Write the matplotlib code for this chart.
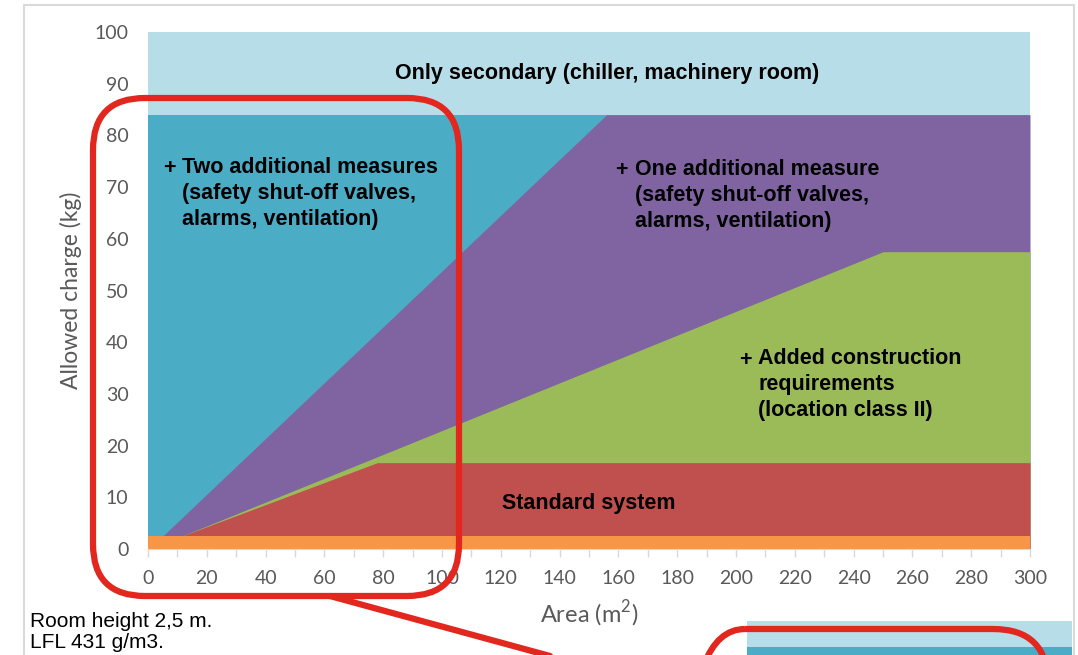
import numpy as np
import matplotlib.pyplot as plt
from matplotlib.patches import FancyBboxPatch, Rectangle

# boundaries of each band (area in m2 -> allowed charge in kg)
secondary_x = [0, 300]
secondary_y = [100, 100]
two_measures_x = [0, 300]
two_measures_y = [84, 84]
one_measure_x = [0, 5, 156, 300]
one_measure_y = [2.5, 2.5, 84, 84]
construction_x = [0, 11.5, 250, 300]
construction_y = [2.5, 2.5, 57.5, 57.5]
standard_x = [0, 11.5, 78, 300]
standard_y = [2.5, 2.5, 16.7, 16.7]
base_x = [0, 300]
base_y = [2.5, 2.5]

layers = [
    (secondary_x, secondary_y, '#B7DDE8'),
    (two_measures_x, two_measures_y, '#4BACC6'),
    (one_measure_x, one_measure_y, '#8064A2'),
    (construction_x, construction_y, '#9BBB59'),
    (standard_x, standard_y, '#C0504D'),
    (base_x, base_y, '#F79646'),
]

x_ticks = list(range(0, 301, 20))
y_ticks = list(range(0, 101, 10))

plt.rcParams['font.family'] = ['Lato', 'DejaVu Sans']
plt.rcParams['mathtext.fontset'] = 'custom'
plt.rcParams['mathtext.rm'] = 'Lato'
W, H = 1078, 655
fig = plt.figure(figsize=(W / 100, H / 100), dpi=100)
ax = fig.add_axes([148 / W, 1 - 549 / H, 882 / W, 517 / H])

for xs, ys, col in layers:
    ax.fill_between(xs, 0, ys, color=col, linewidth=0)

ax.set_xlim(0, 300)
ax.set_ylim(0, 100)
ax.set_xticks(x_ticks)
ax.set_xticks(range(0, 301, 10), minor=True)
ax.set_yticks(y_ticks)
for s in ['top', 'right', 'left']:
    ax.spines[s].set_visible(False)
ax.spines['bottom'].set_color('#D9D9D9')
ax.tick_params(axis='x', which='both', colors='#D9D9D9', length=6, width=1,
               labelcolor='#595959', labelsize=14, pad=9)
ax.tick_params(axis='y', length=0, labelcolor='#595959', labelsize=14, pad=14)
ax.set_xlabel('Area (m$^\\mathrm{2}$)', fontsize=17, color='#595959', labelpad=8)
ax.set_ylabel('Allowed charge (kg)', fontsize=16.5, color='#595959', labelpad=9)

bold = dict(family=['Liberation Sans', 'DejaVu Sans'], fontweight='bold', fontsize=15.5,
            color='black', linespacing=1.33)
ax.text(156, 92, 'Only secondary (chiller, machinery room)', ha='center', va='center', **bold)
ax.text(5, 73.6, '+', ha='left', va='center', **bold)
ax.text(11.5, 75.9, 'Two additional measures\n(safety shut-off valves,\nalarms, ventilation)',
        ha='left', va='top', **bold)
ax.text(159, 73.2, '+', ha='left', va='center', **bold)
ax.text(165.5, 75.5, 'One additional measure\n(safety shut-off valves,\nalarms, ventilation)',
        ha='left', va='top', **bold)
ax.text(201, 36.4, '+', ha='left', va='center', **bold)
ax.text(207.5, 38.9, 'Added construction\nrequirements\n(location class II)',
        ha='left', va='top', **bold)
ax.text(150, 8.8, 'Standard system', ha='center', va='center', **bold)

# overlay in pixel coordinates
ov = fig.add_axes([0, 0, 1, 1], zorder=5)
ov.set_xlim(0, W)
ov.set_ylim(H, 0)
ov.axis('off')
ov.patch.set_alpha(0)

# light frame
ov.plot([24, 24, 1074, 1074], [H + 5, 5, 5, H + 5], color='#D9D9D9', lw=1.5, clip_on=True)

# cut-off inset at the bottom right
ov.add_patch(Rectangle((747, 621), 325, 40, color='#B7DDE8', lw=0))
ov.add_patch(Rectangle((747, 647), 325, 15, color='#4BACC6', lw=0))

red = '#E2271E'
ov.add_patch(FancyBboxPatch((93, 98), 366, 498, boxstyle='round,pad=0,rounding_size=52',
                            fill=False, ec=red, lw=4.5))
ov.plot([330, 572], [596, 662], color=red, lw=4.5, solid_capstyle='round')
ov.add_patch(FancyBboxPatch((690, 629), 358, 200, boxstyle='round,pad=0,rounding_size=55',
                            fill=False, ec=red, lw=4.5))

note = dict(family=['Liberation Sans', 'DejaVu Sans'], fontsize=15, color='black')
ov.text(30, 627, 'Room height 2,5 m.', va='baseline', **note)
ov.text(30, 648, 'LFL 431 g/m3.', va='baseline', **note)

fig.savefig('out.png', dpi=100)
